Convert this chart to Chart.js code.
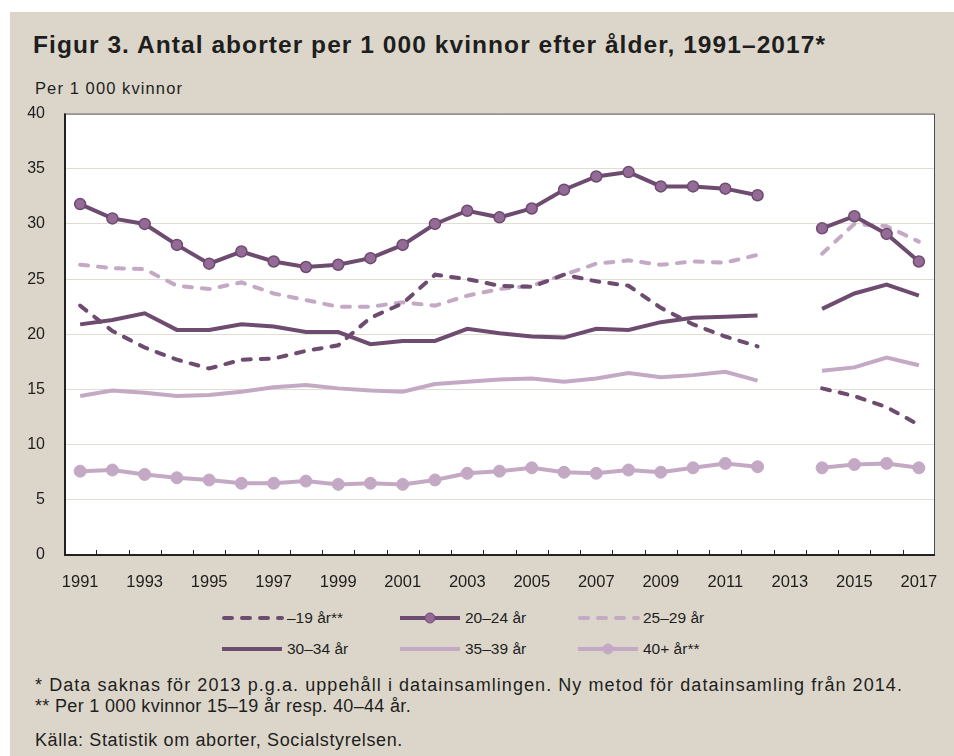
<!DOCTYPE html>
<html lang="sv">
<head>
<meta charset="utf-8">
<script src="https://cdn.jsdelivr.net/npm/chart.js@4/dist/chart.umd.min.js"></script>
<style>
  html, body { margin: 0; padding: 0; background: #fff; }
  body { width: 954px; height: 756px; position: relative; overflow: hidden; font-family: "Liberation Sans", Arial, sans-serif; color: #1e1e1e; }
  #panel { position: absolute; left: 10px; top: 12px; right: 0; bottom: 0; background: #dcd6ca; }
  #title { position: absolute; left: 33px; top: 31px; font-size: 24.5px; font-weight: bold; white-space: nowrap; }
  #ytitle { position: absolute; left: 35px; top: 79px; font-size: 16.5px; white-space: nowrap; }
  #chartBox { position: absolute; left: 0; top: 85px; width: 954px; height: 507px; }
  .leg { position: absolute; font-size: 15.5px; white-space: nowrap; display: flex; align-items: center; }
  .leg svg { margin-right: 3px; }
  .note { position: absolute; left: 35px; font-size: 18px; line-height: 21px; white-space: nowrap; }
</style>
</head>
<body>
<div id="panel"></div>
<div id="title" data-w="793">Figur 3. Antal aborter per 1 000 kvinnor efter ålder, 1991–2017*</div>
<div id="ytitle" data-w="148">Per 1 000 kvinnor</div>
<div id="chartBox"><canvas id="chart" width="954" height="507"></canvas></div>
<div id="legend"></div>
<div class="note" data-w="868" style="top:675px">* Data saknas för 2013 p.g.a. uppehåll i datainsamlingen. Ny metod för datainsamling från 2014.</div>
<div class="note" data-w="376" style="top:696px">** Per 1 000 kvinnor 15–19 år resp. 40–44 år.</div>
<div class="note" data-w="368" style="top:730px">Källa: Statistik om aborter, Socialstyrelsen.</div>

<script>
const years = ["1991","1992","1993","1994","1995","1996","1997","1998","1999","2000","2001","2002","2003","2004","2005","2006","2007","2008","2009","2010","2011","2012","2013","2014","2015","2016","2017"];

// 2013 saknas (null)
const age19 = [22.6,20.3,18.8,17.7,16.9,17.7,17.8,18.5,19.0,21.5,22.8,25.4,25.0,24.4,24.3,25.4,24.8,24.4,22.4,20.9,19.8,18.9,null,15.1,14.4,13.4,11.8];
const age20to24 = [31.8,30.5,30.0,28.1,26.4,27.5,26.6,26.1,26.3,26.9,28.1,30.0,31.2,30.6,31.4,33.1,34.3,34.7,33.4,33.4,33.2,32.6,null,29.6,30.7,29.1,26.6];
const age25to29 = [26.3,26.0,25.9,24.4,24.1,24.7,23.7,23.1,22.5,22.5,22.9,22.6,23.5,24.1,24.4,25.4,26.4,26.7,26.3,26.6,26.5,27.2,null,27.3,30.0,29.8,28.4];
const age30to34 = [20.9,21.3,21.9,20.4,20.4,20.9,20.7,20.2,20.2,19.1,19.4,19.4,20.5,20.1,19.8,19.7,20.5,20.4,21.1,21.5,21.6,21.7,null,22.3,23.7,24.5,23.5];
const age35to39 = [14.4,14.9,14.7,14.4,14.5,14.8,15.2,15.4,15.1,14.9,14.8,15.5,15.7,15.9,16.0,15.7,16.0,16.5,16.1,16.3,16.6,15.8,null,16.7,17.0,17.9,17.2];
const age40plus = [7.6,7.7,7.3,7.0,6.8,6.5,6.5,6.7,6.4,6.5,6.4,6.8,7.4,7.6,7.9,7.5,7.4,7.7,7.5,7.9,8.3,8.0,null,7.9,8.2,8.3,7.9];

const seriesNames = ["–19 år**","20–24 år","25–29 år","30–34 år","35–39 år","40+ år**"];

const dark = "#6e4c70";
const light = "#c4a9c5";
const markDark = "#946a97";

const datasets = [
  { label: seriesNames[0], data: age19, borderColor: dark, borderDash: [8, 10], borderCapStyle: "round", pointRadius: 0 },
  { label: seriesNames[1], data: age20to24, borderColor: dark, pointRadius: 5.5, pointBackgroundColor: markDark, pointBorderColor: dark, pointBorderWidth: 1.5 },
  { label: seriesNames[2], data: age25to29, borderColor: light, borderDash: [8, 10], borderCapStyle: "round", pointRadius: 0 },
  { label: seriesNames[3], data: age30to34, borderColor: dark, pointRadius: 0 },
  { label: seriesNames[4], data: age35to39, borderColor: light, pointRadius: 0 },
  { label: seriesNames[5], data: age40plus, borderColor: light, pointRadius: 6, pointBackgroundColor: light, pointBorderColor: light, pointBorderWidth: 1 },
];
datasets.forEach((d) => { d.borderWidth = 4; d.tension = 0; d.fill = false; d.spanGaps = false; });

// vit rityta, ram och små streck på x-axeln
const frame = {
  id: "frame",
  beforeDraw(chart) {
    const { ctx, chartArea: a } = chart;
    ctx.save();
    ctx.fillStyle = "#ffffff";
    ctx.fillRect(a.left, a.top, a.width, a.height);
    ctx.restore();
  },
  afterDraw(chart) {
    const { ctx, chartArea: a } = chart;
    const xs = chart.scales.x;
    ctx.save();
    ctx.strokeStyle = "#4d4d4d";
    ctx.lineWidth = 1;
    ctx.strokeRect(a.left + 0.5, a.top + 0.5, a.width - 1, a.height - 1);
    ctx.strokeStyle = "#222";
    ctx.lineWidth = 2;
    ctx.beginPath();
    ctx.moveTo(a.left + 1, a.top);
    ctx.lineTo(a.left + 1, a.bottom);
    ctx.lineTo(a.right, a.bottom);
    ctx.stroke();
    ctx.lineWidth = 1;
    for (let i = 1; i < years.length; i++) {
      const x = Math.round((xs.getPixelForValue(i - 1) + xs.getPixelForValue(i)) / 2) + 0.5;
      ctx.beginPath();
      ctx.moveTo(x, a.bottom);
      ctx.lineTo(x, a.bottom - 5);
      ctx.stroke();
    }
    ctx.restore();
  },
};

new Chart(document.getElementById("chart"), {
  type: "line",
  data: { labels: years, datasets },
  plugins: [frame],
  options: {
    responsive: false,
    animation: false,
    layout: { padding: { left: 0, right: 19, top: 13, bottom: 0 } },
    plugins: { legend: { display: false }, tooltip: { enabled: false } },
    scales: {
      x: {
        offset: true,
        grid: { display: false },
        border: { display: false },
        ticks: {
          autoSkip: false,
          maxRotation: 0,
          padding: 10,
          color: "#1e1e1e",
          font: { size: 16.5, family: "Liberation Sans" },
          callback: (v, i) => (i % 2 === 0 ? years[i] : ""),
        },
        afterFit: (s) => { s.height = 37; },
      },
      y: {
        min: 0,
        max: 40,
        grid: { color: "#e2ddd3", lineWidth: 1, drawTicks: false },
        border: { display: false },
        ticks: { stepSize: 5, padding: 19, color: "#1e1e1e", font: { size: 16, family: "Liberation Sans" } },
        afterFit: (s) => { s.width = 64; },
      },
    },
  },
});

// legend i tre kolumner
const legPos = [[222, 618], [400, 618], [578, 618], [222, 649], [400, 649], [578, 649]];
const legend = document.getElementById("legend");
datasets.forEach((d, i) => {
  const [x, y] = legPos[i];
  const el = document.createElement("div");
  el.className = "leg";
  el.style.left = x + "px";
  el.style.top = (y - 10) + "px";
  const dash = d.borderDash ? `stroke-dasharray="${d.borderDash.join(" ")}" stroke-linecap="round"` : "";
  const dot = d.pointRadius ? `<circle cx="30" cy="10" r="5" fill="${d.pointBackgroundColor}" stroke="${d.pointBorderColor}" stroke-width="1"/>` : "";
  el.innerHTML = `<svg width="62" height="20"><line x1="${d.borderDash ? 2 : 0}" y1="10" x2="60" y2="10" stroke="${d.borderColor}" stroke-width="4" ${dash}/>${dot}</svg><span>${d.label}</span>`;
  legend.appendChild(el);
});

// sträck ut texterna till referensens bredd
document.querySelectorAll("[data-w]").forEach((el) => {
  const target = Number(el.dataset.w);
  const w = el.getBoundingClientRect().width;
  el.style.letterSpacing = ((target - w) / el.textContent.length) + "px";
});
</script>
</body>
</html>
